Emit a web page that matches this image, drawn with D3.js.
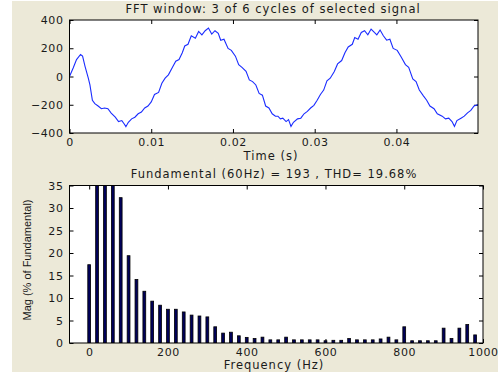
<!DOCTYPE html>
<html><head><meta charset="utf-8">
<script src="https://cdn.jsdelivr.net/npm/d3@7"></script>
<style>body{margin:0;background:#fff}</style>
</head><body>
<svg id="c" width="498" height="374"></svg>
<script>
// ---------- data ----------
const timeS = [0, .00045, .00086, .00135, .0016, .0019, .0023, .0025, .0028, .0031, .0035, .0039, .0043, .0047, .0051, .0056, .006, .0064, .0067, .0069, .0072, .0076, .008, .0084, .0088, .0092, .0096, .01, .0104, .0109, .0113, .0117, .0121, .0126, .013, .0134, .0138, .0141, .0145, .0149, .0154, .0158, .0162, .0166, .017, .0174, .0178, .0182, .0185, .0189, .0194, .0198, .0203, .0207, .0211, .0216, .022, .0224, .0228, .0232, .0236, .024, .0244, .0248, .0252, .0255, .0258, .0261, .0265, .0268, .0271, .0274, .0279, .0283, .0287, .0291, .0295, .0299, .0303, .0307, .0311, .0315, .0319, .0324, .0328, .0333, .0337, .0341, .0346, .0349, .0353, .0357, .0361, .0365, .0369, .0373, .0376, .038, .0384, .0388, .0392, .0396, .0401, .0406, .0411, .0415, .042, .0424, .0428, .0433, .0437, .0441, .0446, .045, .0456, .046, .0464, .0468, .0471, .0474, .0479, .0483, .0487, .0491, .0495, .05];
const signalV = [0, 60, 120, 156, 144, 72, -12, -60, -168, -192, -209, -228, -223, -228, -259, -288, -319, -312, -336, -355, -324, -300, -288, -264, -252, -223, -209, -180, -127, -113, -48, -12, 12, 65, 108, 120, 168, 216, 228, 288, 271, 319, 295, 324, 343, 300, 324, 305, 257, 264, 199, 185, 144, 84, 65, 36, -24, -36, -60, -120, -132, -209, -223, -264, -281, -281, -300, -295, -319, -305, -353, -324, -300, -295, -264, -247, -223, -204, -168, -127, -96, -31, -12, 36, 89, 113, 168, 209, 228, 276, 264, 312, 324, 295, 336, 312, 295, 329, 288, 257, 264, 199, 185, 137, 84, 65, -17, -36, -96, -137, -168, -209, -228, -264, -281, -300, -295, -319, -353, -312, -295, -281, -257, -240, -209, -199];
const timeTicks = [0, 0.01, 0.02, 0.03, 0.04];
const timeTickLabels = ["0", "0.01", "0.02", "0.03", "0.04"];
const signalTicks = [-400, -200, 0, 200, 400];

const freqHz = [0, 20, 40, 60, 80, 100, 120, 140, 160, 180, 200, 220, 240, 260, 280, 300, 320, 340, 360, 380, 400, 420, 440, 460, 480, 500, 520, 540, 560, 580, 600, 620, 640, 660, 680, 700, 720, 740, 760, 780, 800, 820, 840, 860, 880, 900, 920, 940, 960, 980, 1000];
const magPct = [17.4, 38, 80, 100, 32.3, 19.4, 14.1, 11.5, 9.3, 8.4, 7.5, 7.5, 6.9, 6.2, 6.0, 5.8, 3.6, 2.2, 2.4, 1.6, 1.25, 1.0, 1.3, 0.7, 0.7, 1.3, 0.7, 0.7, 0.7, 0.7, 0.5, 0.6, 0.6, 1.0, 0.7, 0.7, 0.7, 0.9, 1.3, 0.7, 3.6, 0.5, 0.5, 0.5, 0.5, 3.3, 1.0, 3.3, 4.1, 1.8, 0];
const freqTicks = [0, 200, 400, 600, 800, 1000];
const magTicks = [0, 5, 10, 15, 20, 25, 30, 35];

const topTitle = "FFT window: 3 of 6 cycles of selected signal";
const topXLabel = "Time (s)";
const bottomTitle = "Fundamental (60Hz) = 193 , THD= 19.68%";
const bottomXLabel = "Frequency (Hz)";
const bottomYLabel = "Mag (% of Fundamental)";

// ---------- drawing ----------
const svg = d3.select("#c");
const FONT = "DejaVu Sans";
const FS = "11.5px";
const LS = "1px";
const TICK_FS = "11px";
const TICK_LS = "0.6px";
const TXT = "#1a1a1a";

svg.append("rect").attr("x", 12).attr("y", 1).attr("width", 486).attr("height", 371).attr("fill", "#ece9d8");

const defs = svg.append("defs");

function styleAxis(g, labels) {
  g.select(".domain").remove();
  g.selectAll("line").attr("stroke", "#000");
  g.selectAll("text").attr("font-family", FONT).attr("font-size", TICK_FS)
    .attr("letter-spacing", TICK_LS).attr("fill", TXT);
  if (!labels) g.selectAll("text").remove();
}

function panel(box, xDomain, yDomain, xt, xtl, yt, id) {
  const x = d3.scaleLinear().domain(xDomain).range([box.l, box.r]);
  const y = d3.scaleLinear().domain(yDomain).range([box.b, box.t]);
  svg.append("rect").attr("x", box.l).attr("y", box.t).attr("width", box.r - box.l)
    .attr("height", box.b - box.t).attr("fill", "#fff");
  defs.append("clipPath").attr("id", id).append("rect")
    .attr("x", box.l).attr("y", box.t).attr("width", box.r - box.l).attr("height", box.b - box.t);
  const fmt = xtl ? ((d, i) => xtl[i]) : d3.format("d");
  svg.append("g").attr("transform", `translate(0,${box.b})`)
    .call(d3.axisBottom(x).tickValues(xt).tickFormat(fmt).tickSizeInner(-4).tickSizeOuter(0).tickPadding(5))
    .call(g => styleAxis(g, true));
  svg.append("g").attr("transform", `translate(0,${box.t})`)
    .call(d3.axisTop(x).tickValues(xt).tickSizeInner(-4).tickSizeOuter(0))
    .call(g => styleAxis(g, false));
  svg.append("g").attr("transform", `translate(${box.l},0)`)
    .call(d3.axisLeft(y).tickValues(yt).tickFormat(d3.format("d")).tickSizeInner(-4).tickSizeOuter(0).tickPadding(6))
    .call(g => styleAxis(g, true));
  svg.append("g").attr("transform", `translate(${box.r},0)`)
    .call(d3.axisRight(y).tickValues(yt).tickSizeInner(-4).tickSizeOuter(0))
    .call(g => styleAxis(g, false));
  return {x, y};
}

// top panel
const topBox = {l: 69.5, r: 478, t: 20, b: 133};
const P1 = panel(topBox, [0, 0.04998], [-400, 400], timeTicks, timeTickLabels, signalTicks, "clip1");
const line = d3.line().x((d, i) => P1.x(timeS[i])).y(d => P1.y(d));
svg.append("path").datum(signalV).attr("d", line).attr("fill", "none")
  .attr("stroke", "#1a2cff").attr("stroke-width", 1.1).attr("clip-path", "url(#clip1)");
svg.append("rect").attr("x", topBox.l).attr("y", topBox.t).attr("width", topBox.r - topBox.l)
  .attr("height", topBox.b - topBox.t).attr("fill", "none").attr("stroke", "#000").attr("stroke-width", 1);

// bottom panel
const botBox = {l: 69.5, r: 483, t: 185.5, b: 343};
const P2 = panel(botBox, [-50, 1000], [0, 35], freqTicks, null, magTicks, "clip2");
svg.append("g").attr("clip-path", "url(#clip2)").selectAll("rect").data(magPct).join("rect")
  .attr("x", (d, i) => P2.x(freqHz[i]) - 1.4)
  .attr("width", 2.8)
  .attr("y", d => P2.y(Math.min(d, 36)))
  .attr("height", d => P2.y(0) - P2.y(Math.min(d, 36)))
  .attr("fill", "#00005a").attr("stroke", "#000").attr("stroke-width", 0.8);
svg.append("rect").attr("x", botBox.l).attr("y", botBox.t).attr("width", botBox.r - botBox.l)
  .attr("height", botBox.b - botBox.t).attr("fill", "none").attr("stroke", "#000").attr("stroke-width", 1);

function label(txt, x, y, rot, fam, size, ls) {
  const t = svg.append("text").attr("x", x).attr("y", y).attr("text-anchor", "middle")
    .attr("font-family", fam || FONT).attr("font-size", size || FS)
    .attr("letter-spacing", ls === undefined ? LS : ls).attr("fill", TXT).text(txt);
  if (rot) t.attr("transform", `rotate(${rot},${x},${y})`);
  return t;
}
label(topTitle, 273, 13);
label(topXLabel, 271, 160);
label(bottomTitle, 274, 178);
label(bottomXLabel, 274, 369);
label(bottomYLabel, 31, 260, -90, "Liberation Sans", "11px", "0px");
</script>
</body></html>
